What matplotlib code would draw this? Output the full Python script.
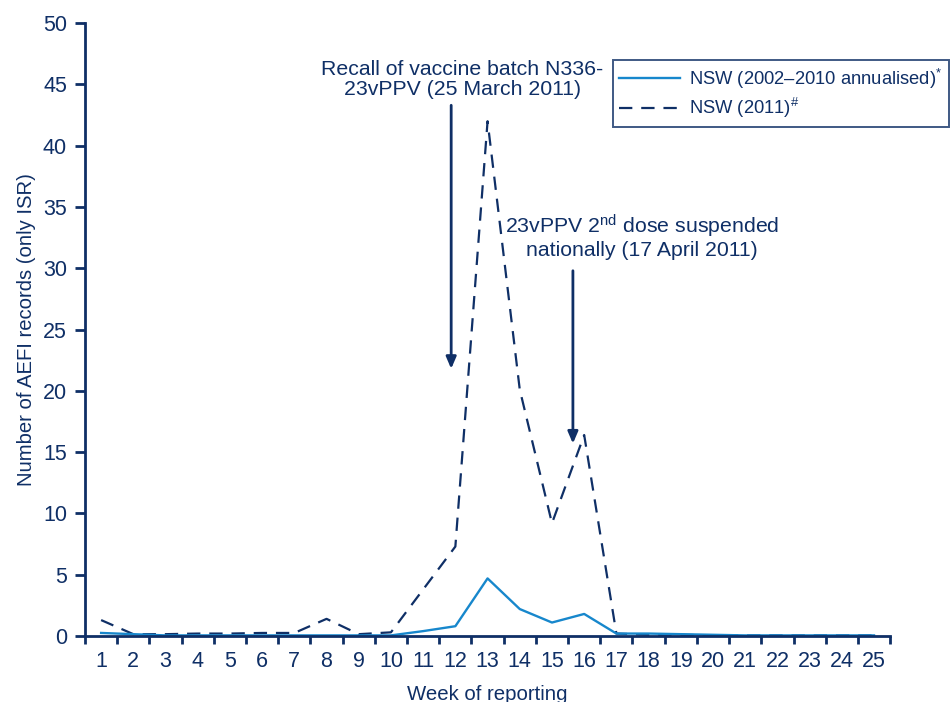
import numpy as np
import matplotlib.pyplot as plt

plt.rcParams['font.family'] = ['Liberation Sans', 'DejaVu Sans']
plt.rcParams['mathtext.fontset'] = 'custom'
plt.rcParams['mathtext.rm'] = 'Liberation Sans'
plt.rcParams['mathtext.it'] = 'Liberation Sans:italic'

NAVY = '#0f2f66'
BLUE = '#1787cc'

weeks = list(range(1, 26))
# NSW 2002-2010 average per week (annualised)
nsw_hist = [0.25, 0.15, 0.05, 0.05, 0.05, 0.05, 0.05, 0.05, 0.05, 0.05,
            0.4, 0.8, 4.7, 2.2, 1.1, 1.8, 0.2, 0.2, 0.15, 0.1,
            0.05, 0.05, 0.05, 0.05, 0.05]
# NSW 2011
nsw_2011 = [1.3, 0.15, 0.15, 0.2, 0.2, 0.25, 0.25, 1.4, 0.15, 0.3,
            3.8, 7.3, 42.0, 20.1, 9.2, 16.4, 0.2, 0.1, 0.1, 0.05,
            0.05, 0.05, 0.05, 0.05, 0.05]

fig = plt.figure(figsize=(9.52, 7.02), dpi=100)
ax = fig.add_axes([0.0893, 0.094, 0.8457, 0.873])

ax.plot(weeks, nsw_2011, color=NAVY, lw=1.6, ls=(0, (6, 4)),
        label='NSW (2011)$^{\\#}$')
ax.plot(weeks, nsw_hist, color=BLUE, lw=1.7,
        label='NSW (2002\u20132010 annualised)$^{*}$')

ax.set_xlim(0.5, 25.5)
ax.set_ylim(0, 50)
ax.set_yticks(np.arange(0, 51, 5))
ax.set_xticks(np.arange(0.5, 25.6, 1))
ax.set_xticklabels([])
ax.set_xticks(weeks, minor=True)
ax.set_xticklabels([str(w) for w in weeks], minor=True)
ax.tick_params(axis='x', which='minor', length=0, pad=11, labelsize=15.5, labelcolor=NAVY)
ax.tick_params(axis='x', which='major', length=6, width=2, color=NAVY, direction='out')
ax.tick_params(axis='y', length=7, width=2, color=NAVY, labelsize=15.5, labelcolor=NAVY, pad=6)

for s in ['top', 'right']:
    ax.spines[s].set_visible(False)
for s in ['left', 'bottom']:
    ax.spines[s].set_color(NAVY)
    ax.spines[s].set_linewidth(2)

ax.set_xlabel('Week of reporting', fontsize=14.7, color=NAVY, labelpad=9)
ax.set_ylabel('Number of AEFI records (only ISR)', fontsize=14.6, color=NAVY, labelpad=5)

arrow = dict(arrowstyle='-|>,head_length=0.7,head_width=0.3', color=NAVY, lw=2,
             shrinkA=0, shrinkB=0)
ax.annotate('', xy=(11.87, 21.8), xytext=(11.87, 43.3), arrowprops=arrow)
ax.annotate('', xy=(15.65, 15.7), xytext=(15.65, 29.8), arrowprops=arrow)

ax.text(12.21, 45.4, 'Recall of vaccine batch N336-\n23vPPV (25 March 2011)',
        ha='center', va='center', fontsize=15.3, color=NAVY, linespacing=1.1)
ax.text(17.8, 32.6, '23vPPV 2$^{\\mathrm{nd}}$ dose suspended\nnationally (17 April 2011)',
        ha='center', va='center', fontsize=15.3, color=NAVY, linespacing=1.1)

handles, labels = ax.get_legend_handles_labels()
leg = ax.legend(handles[::-1], labels[::-1], loc='upper left',
                bbox_to_anchor=(613 / 952, 1 - 60 / 702), bbox_transform=fig.transFigure,
                fontsize=13.2, frameon=True, fancybox=False, handlelength=3.3,
                borderpad=0.35, labelspacing=0.3, handletextpad=0.5, borderaxespad=0)
leg.get_frame().set_edgecolor(NAVY)
leg.get_frame().set_linewidth(1.4)
for t in leg.get_texts():
    t.set_color(NAVY)

fig.savefig('out.png', dpi=100)
